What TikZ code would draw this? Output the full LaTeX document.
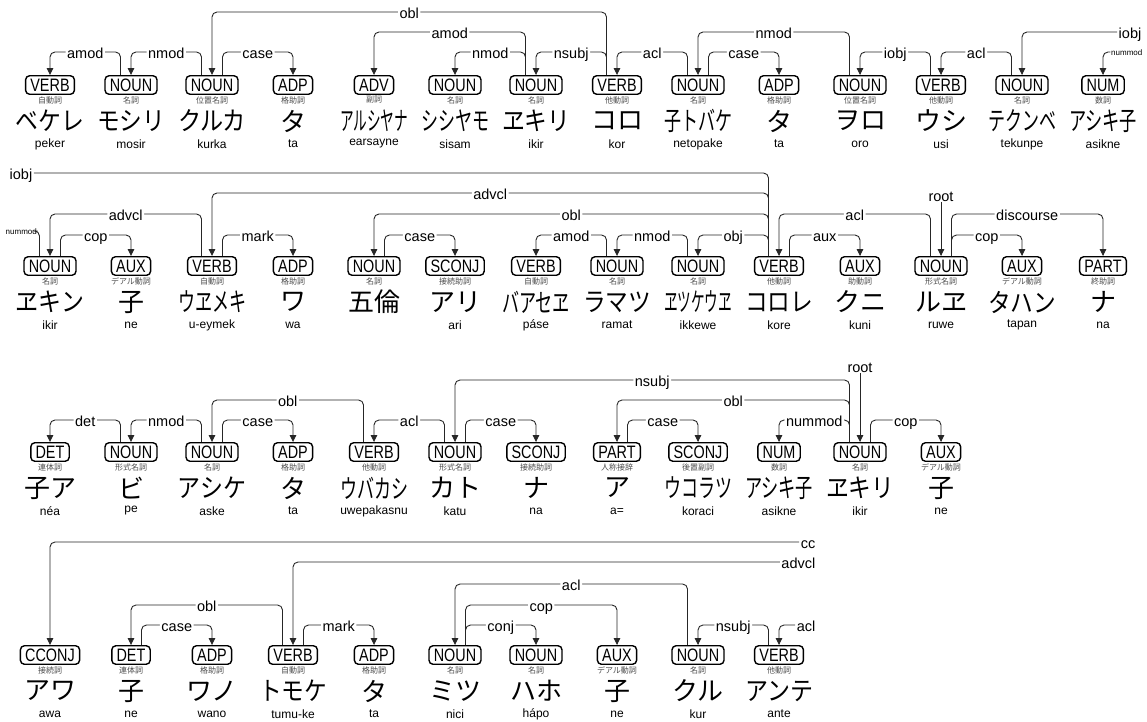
\documentclass[tikz,border=0pt]{standalone}
\usepackage{fontspec}
\usepackage{graphicx}
\usepackage{tikz}
\usetikzlibrary{arrows.meta}
\setmainfont{Liberation Sans}
\newfontfamily\kanafont{Noto Sans CJK JP}

\newsavebox\kanabox
\newcommand\fitkana[1]{\sbox\kanabox{#1}%
  \ifdim\wd\kanabox>68pt\resizebox{68pt}{\height}{\usebox\kanabox}\else\usebox\kanabox\fi}

% one token: name, x, y, tag, japanese tag, word, transliteration
\newcommand\word[7]{%
  \node[upos] (#1) at (#2,#3) {\scalebox{0.8}[1]{#4}};
  \node[xpos] (#1s) at (#2,#3+15) {#5};
  \node[wordform] (#1k) at (#2,#3+36) {\fitkana{#6}};
  \node[romaji] (#1r) at (#2,#3+59) {#7};}

% one relation: head, shift, dependent, level, label
\newcommand\deprel[5]{%
  \coordinate (hs) at ([xshift=#2]#1.north);
  \coordinate (lv) at (0,#4);
  \draw[deparrow] (hs) -- (hs |- lv) -- node[deplabel]{#5} (#3.north |- lv) -- (#3.north);}

\begin{document}
\begin{tikzpicture}[x=1pt, y=-1pt,
    upos/.style={draw, line width=1.4pt, rounded corners=4pt, inner xsep=4.8pt, inner ysep=2.8pt,
                 text height=12.9pt, text depth=0pt, font=\fontsize{18pt}{18pt}\selectfont},
    xpos/.style={inner sep=0pt, text=black!70, font={\kanafont\fontsize{8pt}{8pt}\selectfont}},
    wordform/.style={inner sep=0pt, font={\kanafont\fontsize{26pt}{26pt}\selectfont}},
    romaji/.style={inner sep=0pt, font=\fontsize{12pt}{12pt}\selectfont},
    depline/.style={draw=black!85, line width=0.9pt, rounded corners=5pt},
    deparrow/.style={depline, -{Triangle[length=7pt,width=6.5pt]}},
    deplabel/.style={fill=white, inner xsep=1.5pt, inner ysep=0.5pt, text height=12.5pt, text depth=0pt,
                     font=\fontsize{14.5pt}{15pt}\selectfont},
    smalllabel/.style={fill=white, inner sep=0.5pt, text height=6pt, text depth=0pt,
                       font=\fontsize{8pt}{8pt}\selectfont}]
    \useasboundingbox (0,0) rectangle (1147,721);

    % first line
    \word{a0}{50}{85}{VERB}{自動詞}{ベケレ}{peker}
    \word{a1}{131}{85}{NOUN}{名詞}{モシリ}{mosir}
    \word{a2}{212}{85}{NOUN}{位置名詞}{クルカ}{kurka}
    \word{a3}{293}{85}{ADP}{格助詞}{タ}{ta}
    \word{a4}{374}{85}{ADV}{副詞}{アルシヤナ}{earsayne}
    \word{a5}{455}{85}{NOUN}{名詞}{シシヤモ}{sisam}
    \word{a6}{536}{85}{NOUN}{名詞}{ヱキリ}{ikir}
    \word{a7}{617}{85}{VERB}{他動詞}{コロ}{kor}
    \word{a8}{698}{85}{NOUN}{名詞}{子トバケ}{netopake}
    \word{a9}{779}{85}{ADP}{格助詞}{タ}{ta}
    \word{a10}{860}{85}{NOUN}{位置名詞}{ヲロ}{oro}
    \word{a11}{941}{85}{VERB}{他動詞}{ウシ}{usi}
    \word{a12}{1022}{85}{NOUN}{名詞}{テクンベ}{tekunpe}
    \word{a13}{1103}{85}{NUM}{数詞}{アシキ子}{asikne}

    \deprel{a1}{-10.5pt}{a0}{52}{amod}
    \deprel{a2}{-10.5pt}{a1}{52}{nmod}
    \deprel{a2}{10.5pt}{a3}{52}{case}
    \deprel{a7}{-10.5pt}{a2}{12}{obl}
    \deprel{a6}{-10.5pt}{a4}{32}{amod}
    \deprel{a6}{-10.5pt}{a5}{52}{nmod}
    \deprel{a7}{-10.5pt}{a6}{52}{nsubj}
    \deprel{a8}{-10.5pt}{a7}{52}{acl}
    \deprel{a10}{-10.5pt}{a8}{32}{nmod}
    \deprel{a8}{10.5pt}{a9}{52}{case}
    \deprel{a11}{-10.5pt}{a10}{52}{iobj}
    \deprel{a12}{-10.5pt}{a11}{52}{acl}
    \node[deplabel, anchor=east] (iobjr) at (1143,32) {iobj};
    \draw[deparrow] (iobjr.west) -| (a12.north);
    \node[smalllabel, anchor=east] (nummodr) at (1143,52) {nummod};
    \draw[deparrow] (nummodr.west) -| (a13.north);

    % second line
    \word{b0}{50}{266}{NOUN}{名詞}{ヱキン}{ikir}
    \word{b1}{131}{266}{AUX}{デアル動詞}{子}{ne}
    \word{b2}{212}{266}{VERB}{自動詞}{ウヱメキ}{u-eymek}
    \word{b3}{293}{266}{ADP}{格助詞}{ワ}{wa}
    \word{b4}{374}{266}{NOUN}{名詞}{五倫}{}
    \word{b5}{455}{266}{SCONJ}{接続助詞}{アリ}{ari}
    \word{b6}{536}{266}{VERB}{自動詞}{バアセヱ}{páse}
    \word{b7}{617}{266}{NOUN}{名詞}{ラマツ}{ramat}
    \word{b8}{698}{266}{NOUN}{名詞}{ヱツケウヱ}{ikkewe}
    \word{b9}{779}{266}{VERB}{他動詞}{コロレ}{kore}
    \word{b10}{860}{266}{AUX}{助動詞}{クニ}{kuni}
    \word{b11}{941}{266}{NOUN}{形式名詞}{ルヱ}{ruwe}
    \word{b12}{1022}{266}{AUX}{デアル動詞}{タハン}{tapan}
    \word{b13}{1103}{266}{PART}{終助詞}{ナ}{na}

    \node[smalllabel, anchor=west] (nummodl) at (5,231) {nummod};
    \draw[depline] (nummodl.east) -| ([xshift=-10.5pt]b0.north);
    \node[deplabel, anchor=west] (iobjl) at (8,173) {iobj};
    \draw[depline] (iobjl.east) -| ([xshift=-10.5pt]b9.north);
    \deprel{b0}{10.5pt}{b1}{235}{cop}
    \deprel{b2}{-10.5pt}{b0}{214}{advcl}
    \deprel{b2}{10.5pt}{b3}{235}{mark}
    \deprel{b9}{-10.5pt}{b2}{193}{advcl}
    \deprel{b9}{-10.5pt}{b4}{214}{obl}
    \deprel{b4}{10.5pt}{b5}{235}{case}
    \deprel{b7}{-10.5pt}{b6}{235}{amod}
    \deprel{b8}{-10.5pt}{b7}{235}{nmod}
    \deprel{b9}{-10.5pt}{b8}{235}{obj}
    \deprel{b11}{-10.5pt}{b9}{214}{acl}
    \deprel{b9}{10.5pt}{b10}{235}{aux}
    \deprel{b11}{10.5pt}{b13}{214}{discourse}
    \deprel{b11}{10.5pt}{b12}{235}{cop}
    \node[deplabel] (rootb) at (941,195) {root};
    \draw[deparrow] (rootb.south) -- (b11.north);

    % third line
    \word{c0}{50}{452}{DET}{連体詞}{子ア}{néa}
    \word{c1}{131}{452}{NOUN}{形式名詞}{ビ}{pe}
    \word{c2}{212}{452}{NOUN}{名詞}{アシケ}{aske}
    \word{c3}{293}{452}{ADP}{格助詞}{タ}{ta}
    \word{c4}{374}{452}{VERB}{他動詞}{ウバカシ}{uwepakasnu}
    \word{c5}{455}{452}{NOUN}{形式名詞}{カト}{katu}
    \word{c6}{536}{452}{SCONJ}{接続助詞}{ナ}{na}
    \word{c7}{617}{452}{PART}{人称接辞}{ア}{a=}
    \word{c8}{698}{452}{SCONJ}{後置副詞}{ウコラツ}{koraci}
    \word{c9}{779}{452}{NUM}{数詞}{アシキ子}{asikne}
    \word{c10}{860}{452}{NOUN}{名詞}{ヱキリ}{ikir}
    \word{c11}{941}{452}{AUX}{デアル動詞}{子}{ne}

    \deprel{c1}{-10.5pt}{c0}{420}{det}
    \deprel{c2}{-10.5pt}{c1}{420}{nmod}
    \deprel{c2}{10.5pt}{c3}{420}{case}
    \deprel{c4}{-10.5pt}{c2}{400}{obl}
    \deprel{c5}{-10.5pt}{c4}{420}{acl}
    \deprel{c5}{10.5pt}{c6}{420}{case}
    \deprel{c10}{-10.5pt}{c5}{380}{nsubj}
    \deprel{c10}{-10.5pt}{c7}{400}{obl}
    \deprel{c7}{10.5pt}{c8}{420}{case}
    \deprel{c10}{-10.5pt}{c9}{420}{nummod}
    \deprel{c10}{10.5pt}{c11}{420}{cop}
    \node[deplabel] (rootc) at (860,366) {root};
    \draw[deparrow] (rootc.south) -- (c10.north);

    % fourth line
    \word{d0}{50}{655}{CCONJ}{接続詞}{アワ}{awa}
    \word{d1}{131}{655}{DET}{連体詞}{子}{ne}
    \word{d2}{212}{655}{ADP}{格助詞}{ワノ}{wano}
    \word{d3}{293}{655}{VERB}{自動詞}{トモケ}{tumu-ke}
    \word{d4}{374}{655}{ADP}{格助詞}{タ}{ta}
    \word{d5}{455}{655}{NOUN}{名詞}{ミツ}{nici}
    \word{d6}{536}{655}{NOUN}{名詞}{ハホ}{hápo}
    \word{d7}{617}{655}{AUX}{デアル動詞}{子}{ne}
    \word{d8}{698}{655}{NOUN}{名詞}{クル}{kur}
    \word{d9}{779}{655}{VERB}{他動詞}{アンテ}{ante}

    \node[deplabel, anchor=east] (ccr) at (817,542) {cc};
    \draw[deparrow] (ccr.west) -| (d0.north);
    \node[deplabel, anchor=east] (advclr) at (817,562) {advcl};
    \draw[deparrow] (advclr.west) -| (d3.north);
    \deprel{d8}{-10.5pt}{d5}{584}{acl}
    \deprel{d3}{-10.5pt}{d1}{605}{obl}
    \deprel{d1}{10.5pt}{d2}{625}{case}
    \deprel{d3}{10.5pt}{d4}{625}{mark}
    \deprel{d5}{10.5pt}{d7}{605}{cop}
    \deprel{d5}{10.5pt}{d6}{625}{conj}
    \deprel{d9}{-10.5pt}{d8}{625}{nsubj}
    \node[deplabel, anchor=east] (aclr) at (817,625) {acl};
    \draw[deparrow] (aclr.west) -| (d9.north);
\end{tikzpicture}
\end{document}
